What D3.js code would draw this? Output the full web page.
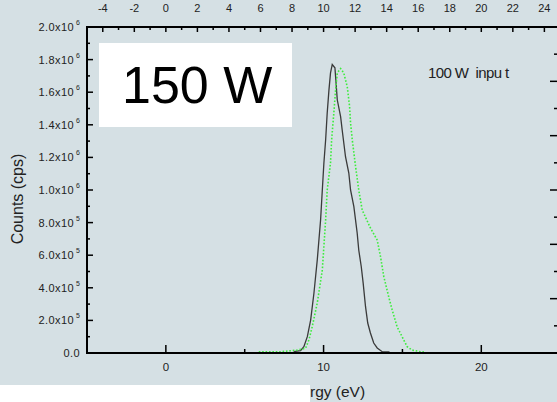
<!DOCTYPE html>
<html><head><meta charset="utf-8">
<script src="https://cdn.jsdelivr.net/npm/d3@7"></script>
<style>html,body{margin:0;padding:0;background:#fff;}svg{display:block;}</style>
</head><body>
<script>
// Data (energy in eV, counts in units of 1e5 cps)
const blackEnergy = [8.10,8.54,8.75,8.97,9.18,9.39,9.60,9.81,9.92,10.02,10.13,10.23,10.34,10.44,10.55,10.72,10.87,11.08,11.18,11.39,11.60,11.71,11.92,12.13,12.23,12.39,12.51,12.66,12.80,12.97,13.18,13.40,13.72,14.18];
const blackCounts = [0.08,0.14,0.39,1.0,2.02,3.68,5.71,8.16,10.0,11.66,13.07,14.72,16.13,17.18,17.7,17.5,15.52,14.50,13.68,12.04,11.04,10.0,8.98,7.36,6.32,5.29,4.29,2.84,1.84,1.23,0.61,0.31,0.08,0.06];
const greenEnergy = [5.89,7.28,8.34,8.86,9.07,9.28,9.60,9.92,10.13,10.23,10.44,10.51,10.65,10.76,10.87,11.08,11.28,11.50,11.65,11.71,11.82,12.03,12.23,12.45,12.97,13.40,13.61,13.82,14.13,14.35,14.66,14.98,15.30,15.61,16.14,16.46];
const greenCounts = [0.08,0.08,0.18,0.29,0.80,1.61,3.07,5.09,8.16,10.0,11.66,13.07,14.72,16.13,17.18,17.45,17.18,16.34,15.11,14.11,13.07,11.43,10.0,8.77,7.67,6.93,5.91,4.68,3.45,2.64,1.61,1.0,0.39,0.18,0.08,0.06];
const yTickValues = [0,2,4,6,8,10,12,14,16,18,20];
const yTickLabels = ["0.0","2.0x10|5","4.0x10|5","6.0x10|5","8.0x10|5","1.0x10|6","1.2x10|6","1.4x10|6","1.6x10|6","1.8x10|6","2.0x10|6"];
const bottomTicks = [0,10,20];
const topTicks = [-4,-2,0,2,4,6,8,10,12,14,16,18,20,22,24];

const W=557,H=402;
const svg=d3.select("body").append("svg").attr("width",W).attr("height",H);
svg.append("rect").attr("width",W).attr("height",H).attr("fill","#d5e0e4");

const x=d3.scaleLinear().domain([-5,24.8]).range([87,557]);
const y=d3.scaleLinear().domain([0,20]).range([353,27]);
const yR=d3.scaleLinear().domain([0,6]).range([353,27]);
const font="Liberation Sans, Arial, sans-serif";

// curves
const line=d3.line().x(d=>x(d[0])).y(d=>y(d[1]));
svg.append("path").datum(blackEnergy.map((e,i)=>[e,blackCounts[i]]))
  .attr("d",line).attr("fill","none").attr("stroke","#3a3a3a").attr("stroke-width",1.3);
svg.append("path").datum(greenEnergy.map((e,i)=>[e,greenCounts[i]]))
  .attr("d",line).attr("fill","none").attr("stroke","#3dec3d").attr("stroke-width",1.6).attr("stroke-dasharray","1.6,1.8");

// axes lines
const ax=svg.append("g").attr("stroke","#000");
ax.append("line").attr("x1",87).attr("x2",87).attr("y1",26).attr("y2",354).attr("stroke-width",2);
ax.append("line").attr("x1",86).attr("x2",557).attr("y1",353).attr("y2",353).attr("stroke-width",2);
ax.append("line").attr("x1",86).attr("x2",557).attr("y1",27).attr("y2",27).attr("stroke-width",2);

// left ticks (inward)
d3.range(0,21,1).forEach(v=>{
  const major=v%2===0;
  ax.append("line").attr("x1",87).attr("x2",87+(major?6:3)).attr("y1",y(v)).attr("y2",y(v)).attr("stroke-width",1.5);
});
// bottom ticks
[0,5,10,15,20].forEach(v=>{
  const major=v%10===0;
  ax.append("line").attr("x1",x(v)).attr("x2",x(v)).attr("y1",353).attr("y2",353-(major?8:4)).attr("stroke-width",1.5);
});
// top ticks
d3.range(-4,25,1).forEach(v=>{
  const major=v%2===0;
  ax.append("line").attr("x1",x(v)).attr("x2",x(v)).attr("y1",27).attr("y2",27+(major?5:3)).attr("stroke-width",1.5);
});
// right ticks
d3.range(0.5,6,0.5).forEach(v=>{
  const major=Math.abs(v-Math.round(v))<1e-6;
  ax.append("line").attr("x1",557).attr("x2",557-(major?7:3)).attr("y1",yR(v)).attr("y2",yR(v)).attr("stroke-width",1.5);
});

// y tick labels
yTickValues.forEach((v,i)=>{
  const parts=yTickLabels[i].split("|");
  svg.append("text").attr("font-family",font).attr("font-size",11).attr("fill","#222")
    .attr("letter-spacing",0.4)
    .attr("text-anchor","end").attr("x",parts.length>1?74:80).attr("y",y(v)+4).text(parts[0]);
  if(parts.length>1){
    svg.append("text").attr("font-family",font).attr("font-size",7).attr("fill","#222")
      .attr("x",76).attr("y",y(v)-2).text(parts[1]);
  }
});
// bottom labels
bottomTicks.forEach(v=>{
  svg.append("text").attr("font-family",font).attr("font-size",11.5).attr("fill","#222")
    .attr("text-anchor","middle").attr("x",x(v)).attr("y",371).text(v);
});
// top labels
topTicks.forEach(v=>{
  svg.append("text").attr("font-family",font).attr("font-size",11).attr("fill","#222")
    .attr("text-anchor","middle").attr("x",x(v)).attr("y",12).text(v);
});

// Y title
svg.append("text").attr("font-family",font).attr("font-size",16).attr("fill","#222")
  .attr("text-anchor","middle").attr("transform","translate(23,199) rotate(-90)").text("Counts (cps)");

// white box 150 W
svg.append("rect").attr("x",99).attr("y",43).attr("width",193).attr("height",84).attr("fill","#fff");
svg.append("text").attr("font-family",font).attr("font-size",52).attr("fill","#000")
  .attr("x",122).attr("y",103).text("150 W");

// annotation
svg.append("text").attr("font-family",font).attr("font-size",15).attr("fill","#222")
  .attr("x",428).attr("y",78).attr("letter-spacing",-0.6).attr("xml:space","preserve").style("white-space","pre")
  .text("100 W  inpu t");

// bottom white cover + partial x title
svg.append("rect").attr("x",0).attr("y",385).attr("width",310).attr("height",17).attr("fill","#fff");
svg.append("text").attr("font-family",font).attr("font-size",15.5).attr("fill","#222")
  .attr("x",310).attr("y",397).text("rgy (eV)");
</script>
</body></html>
